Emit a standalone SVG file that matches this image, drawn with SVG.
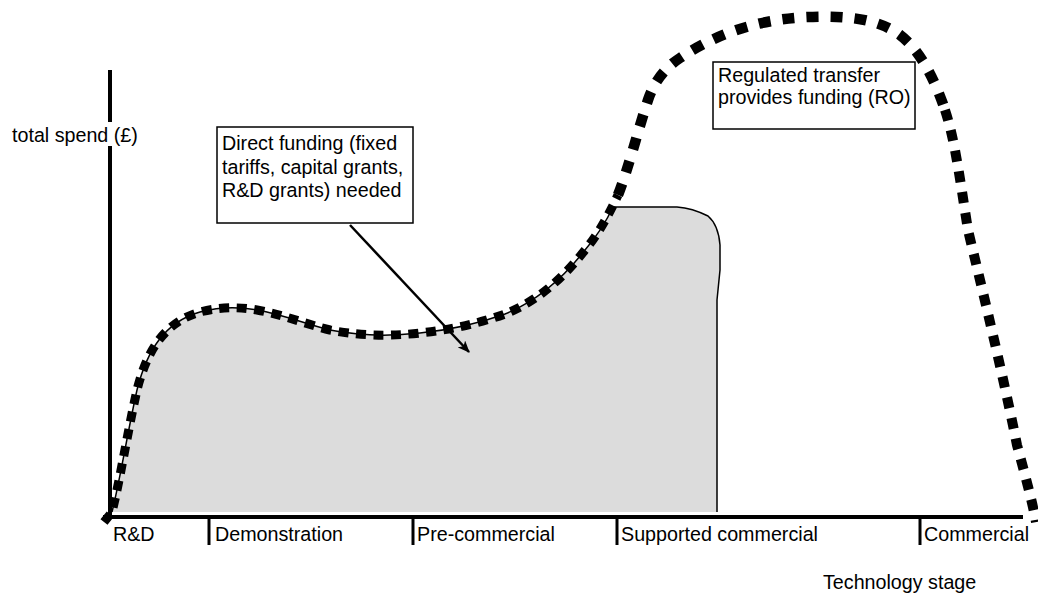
<svg xmlns="http://www.w3.org/2000/svg" width="1038" height="594" viewBox="0 0 1038 594">
  <style>
    text { font-family: "Liberation Sans", Arial, sans-serif; font-size: 19.7px; fill: #000; }
    .axis { stroke: #000; stroke-width: 4; fill: none; }
    .tick { stroke: #000; stroke-width: 3; fill: none; }
    .outline { stroke: #000; stroke-width: 1.5; fill: none; }
    .dots { stroke: #000; fill: none; }
    .box { fill: #fff; stroke: #000; stroke-width: 1.5; }
  </style>
  <defs>
    <marker id="arrow" viewBox="0 0 12 10" refX="11" refY="5" markerWidth="12" markerHeight="10" markerUnits="userSpaceOnUse" orient="auto">
      <path d="M0,0 L12,5 L0,10 L3,5 Z" fill="#000"/>
    </marker>
  </defs>

  <rect width="1038" height="594" fill="#fff"/>

  <g id="shaded-area">
    <path d="M110,512 L112,512 C120,480 128,430 137,390 C147,350 165,322 200,312 C215,308 235,306 257,310 C285,315 305,324 330,330 C355,335 385,337 420,333 C450,330 480,323 505,314 C535,302 560,282 585,250 C597,236 606,222 613,207 L677,207 C690,208 700,212 708,216 C715,222 719,232 720,245 L720,270 L717,300 L717,512 Z" fill="#dcdcdc"/>
    <path class="outline" d="M112,512 C120,480 128,430 137,390 C147,350 165,322 200,312 C215,308 235,306 257,310 C285,315 305,324 330,330 C355,335 385,337 420,333 C450,330 480,323 505,314 C535,302 560,282 585,250 C597,236 606,222 613,207 L677,207 C690,208 700,212 708,216 C715,222 719,232 720,245 L720,270 L717,300 L717,512"/>
  </g>

  <g id="axes">
    <line class="axis" x1="110" y1="70" x2="110" y2="122"/>
    <line class="axis" x1="110" y1="146" x2="110" y2="519"/>
    <line class="axis" x1="103" y1="517" x2="1023" y2="517"/>
    <line class="tick" x1="209" y1="517" x2="209" y2="545"/>
    <line class="tick" x1="413" y1="517" x2="413" y2="545"/>
    <line class="tick" x1="617" y1="517" x2="617" y2="545"/>
    <line class="tick" x1="920" y1="517" x2="920" y2="545"/>
    <text x="12" y="142">total spend (£)</text>
    <text x="113" y="541">R&amp;D</text>
    <text x="215" y="541">Demonstration</text>
    <text x="417" y="541">Pre-commercial</text>
    <text x="621" y="541">Supported commercial</text>
    <text x="924" y="541">Commercial</text>
    <text x="823" y="589">Technology stage</text>
  </g>

  <g id="total-spend-curve">
    <path class="dots" stroke-width="9" stroke-dasharray="10 7.5" d="M104,522 L112,512 C120,480 128,430 137,390 C147,350 165,322 200,312 C215,308 235,306 257,310 C285,315 305,324 330,330 C355,335 385,337 420,333 C450,330 480,323 505,314 C535,302 560,282 585,250 C600,232 610,212 618,195"/>
    <path class="dots" stroke-width="10.5" stroke-dasharray="12 12" d="M618,195 C628,170 638,130 648,100 C655,80 665,68 680,58 C710,38 750,20 807,17 C850,15 880,20 900,35 C920,50 935,80 945,110"/>
    <path class="dots" stroke-width="10" stroke-dasharray="11 10" d="M945,110 C955,140 960,180 968,230 C975,260 1000,360 1017,445 C1025,475 1032,500 1036,522"/>
  </g>

  <g id="callout-direct">
    <rect class="box" x="217" y="127" width="196" height="96"/>
    <text x="222" y="150">Direct funding (fixed</text>
    <text x="222" y="173.5">tariffs, capital grants,</text>
    <text x="222" y="197">R&amp;D grants) needed</text>
  </g>

  <g id="callout-regulated">
    <rect class="box" x="713" y="62" width="202" height="67"/>
    <text x="718" y="82">Regulated transfer</text>
    <text x="718" y="104">provides funding (RO)</text>
  </g>

  <g id="connectors">
    <line x1="350" y1="225" x2="469" y2="352" stroke="#000" stroke-width="2.5" marker-end="url(#arrow)"/>
  </g>
</svg>
